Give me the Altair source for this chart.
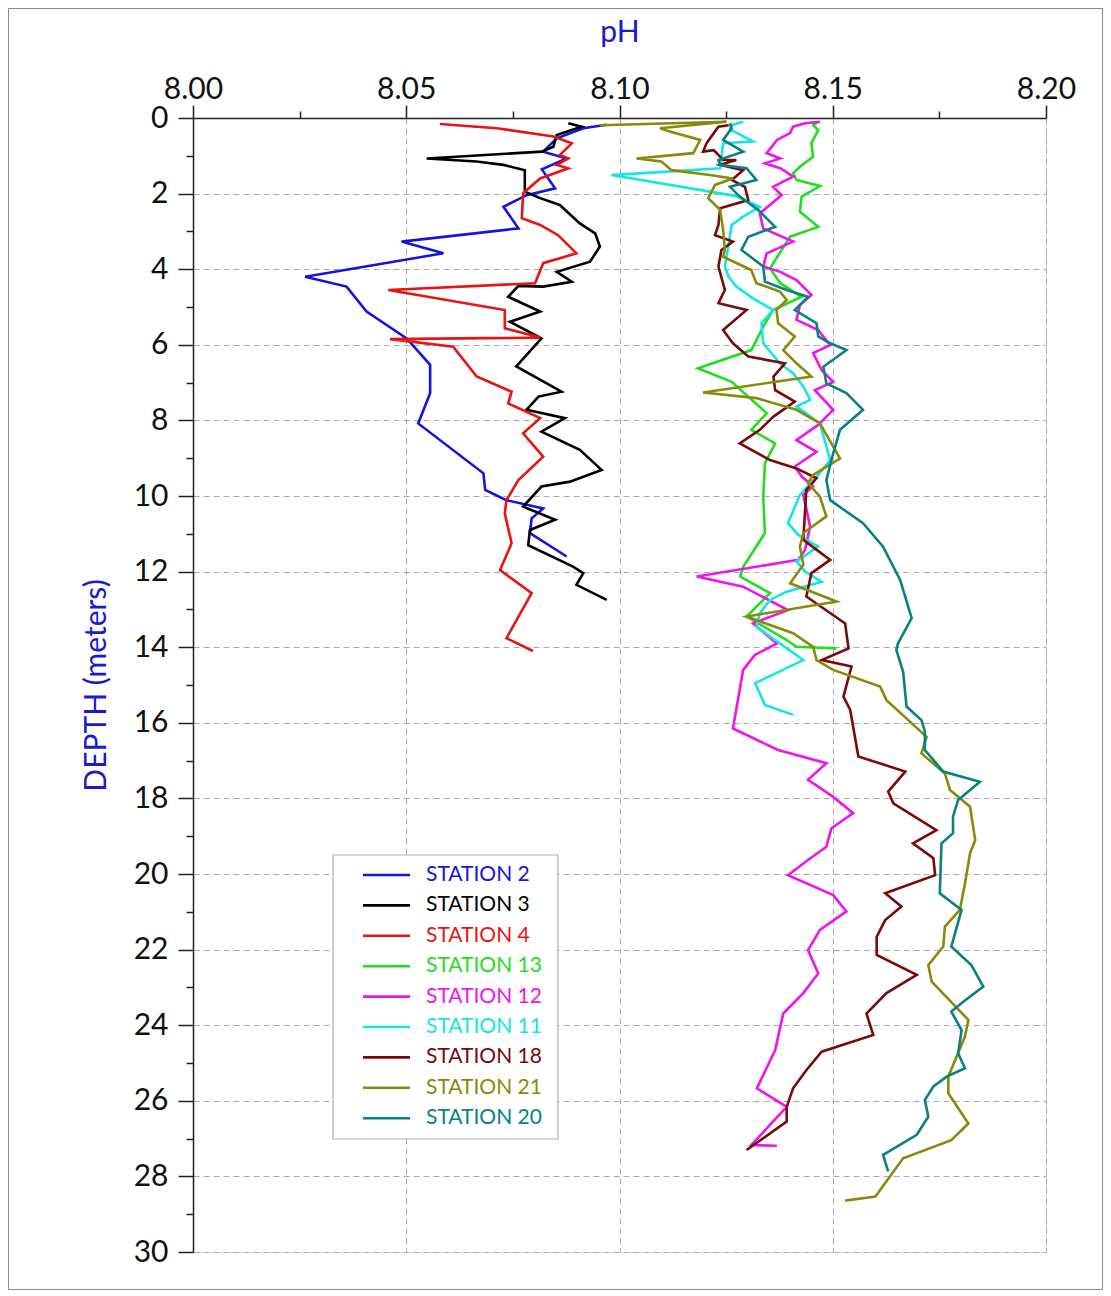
import altair as alt
import pandas as pd

# ---------------- data ----------------
stations = ["STATION 2", "STATION 3", "STATION 4", "STATION 13", "STATION 12",
            "STATION 11", "STATION 18", "STATION 21", "STATION 20"]
colors = ["#1414dc", "#000000", "#e81414", "#22dd22", "#ee14ee",
          "#14e6e6", "#7a0a0a", "#8a8a0a", "#0a8080"]

st2_depth = [0.18, 0.27, 0.54, 0.89, 1.07, 1.36, 1.86, 2.04, 2.35, 2.92,
             3.27, 3.58, 4.20, 4.46, 5.12, 5.83, 6.53, 7.28, 8.08, 9.40,
             9.84, 10.11, 10.33, 10.59, 10.98, 11.60]
st2_ph = [8.0970, 8.0915, 8.0853, 8.0821, 8.0876, 8.0818, 8.0849, 8.0782, 8.0728, 8.0763,
          8.0489, 8.0587, 8.0263, 8.0360, 8.0407, 8.0501, 8.0556, 8.0556, 8.0528, 8.0681,
          8.0685, 8.0735, 8.0821, 8.0794, 8.0790, 8.0876]

st3_depth = [0.14, 0.23, 0.45, 0.76, 0.89, 1.07, 1.15, 1.24, 1.38, 1.95,
             2.12, 2.30, 2.79, 3.05, 3.40, 3.80, 4.07, 4.33, 4.46, 4.44,
             4.73, 5.12, 5.39, 5.83, 6.57, 7.24, 7.37, 7.72, 7.94, 8.30,
             8.78, 9.31, 9.62, 9.75, 10.28, 10.63, 10.90, 11.30, 11.87, 12.04,
             12.35, 12.75]
st3_ph = [8.0880, 8.0911, 8.0853, 8.0845, 8.0818, 8.0548, 8.0665, 8.0728, 8.0778, 8.0778,
          8.0814, 8.0860, 8.0907, 8.0943, 8.0954, 8.0931, 8.0853, 8.0888, 8.0821, 8.0763,
          8.0739, 8.0814, 8.0743, 8.0817, 8.0758, 8.0864, 8.0810, 8.0782, 8.0872, 8.0817,
          8.0907, 8.0958, 8.0884, 8.0817, 8.0774, 8.0849, 8.0790, 8.0786, 8.0891, 8.0915,
          8.0899, 8.0970]

st4_depth = [0.16, 0.27, 0.49, 0.67, 0.98, 1.07, 1.24, 1.33, 1.60, 1.99,
             2.65, 2.83, 3.10, 3.58, 3.84, 4.37, 4.55, 5.08, 5.56, 5.81,
             5.85, 6.05, 6.84, 7.24, 7.55, 7.94, 8.34, 8.96, 9.58, 10.11,
             10.46, 11.25, 11.96, 12.57, 13.76, 14.10]
st4_ph = [8.0579, 8.0712, 8.0845, 8.0888, 8.0860, 8.0880, 8.0853, 8.0880, 8.0814, 8.0774,
          8.0771, 8.0814, 8.0856, 8.0899, 8.0821, 8.0802, 8.0458, 8.0731, 8.0731, 8.0814,
          8.0462, 8.0610, 8.0665, 8.0747, 8.0739, 8.0814, 8.0774, 8.0821, 8.0763, 8.0735,
          8.0731, 8.0747, 8.0720, 8.0794, 8.0735, 8.0797]

st13_depth = [0.10, 0.19, 0.32, 0.67, 1.02, 1.29, 1.46, 1.64, 1.80, 2.08,
              2.48, 2.88, 3.14, 3.49, 3.98, 4.37, 4.73, 5.08, 5.52, 6.14,
              6.62, 6.98, 7.81, 8.25, 8.61, 9.13, 10.02, 10.98, 11.87, 12.13,
              12.57, 13.19, 13.81, 13.99, 14.03]
st13_ph = [8.1466, 8.1454, 8.1466, 8.1450, 8.1454, 8.1423, 8.1407, 8.1415, 8.1470, 8.1427,
           8.1423, 8.1466, 8.1400, 8.1380, 8.1353, 8.1377, 8.1427, 8.1360, 8.1337, 8.1309,
           8.1184, 8.1263, 8.1345, 8.1309, 8.1365, 8.1341, 8.1337, 8.1341, 8.1290, 8.1283,
           8.1353, 8.1298, 8.1392, 8.1415, 8.1509]

st12_depth = [0.10, 0.14, 0.23, 0.40, 0.58, 0.76, 0.93, 1.07, 1.20, 1.33,
              1.55, 1.82, 2.04, 2.26, 2.52, 2.92, 3.27, 3.58, 3.93, 4.07,
              4.29, 4.68, 4.95, 5.34, 5.61, 6.01, 6.22, 6.67, 6.98, 7.20,
              7.72, 8.12, 8.52, 8.83, 9.22, 9.48, 9.75, 9.97, 10.81, 11.43,
              11.69, 12.13, 12.40, 13.02, 13.37, 13.90, 14.20, 14.60, 16.15, 16.72,
              17.07, 17.51, 17.96, 18.39, 18.79, 19.28, 19.63, 20.03, 20.56, 20.99,
              21.48, 22.01, 22.63, 23.15, 23.69, 24.66, 25.67, 26.16, 27.17, 27.19]
st12_ph = [8.1470, 8.1435, 8.1407, 8.1400, 8.1369, 8.1357, 8.1345, 8.1377, 8.1341, 8.1377,
           8.1407, 8.1360, 8.1380, 8.1357, 8.1329, 8.1337, 8.1407, 8.1345, 8.1337, 8.1377,
           8.1415, 8.1450, 8.1423, 8.1415, 8.1466, 8.1494, 8.1454, 8.1474, 8.1501, 8.1458,
           8.1501, 8.1466, 8.1415, 8.1462, 8.1411, 8.1427, 8.1454, 8.1431, 8.1447, 8.1435,
           8.1419, 8.1181, 8.1290, 8.1395, 8.1313, 8.1369, 8.1318, 8.1290, 8.1266, 8.1372,
           8.1485, 8.1442, 8.1501, 8.1548, 8.1497, 8.1485, 8.1442, 8.1395, 8.1501, 8.1532,
           8.1470, 8.1442, 8.1466, 8.1431, 8.1384, 8.1365, 8.1322, 8.1392, 8.1309, 8.1369]

st11_depth = [0.10, 0.19, 0.30, 0.62, 0.67, 1.33, 1.51, 2.06, 2.35, 2.61,
              2.83, 3.32, 3.67, 3.93, 4.20, 4.46, 4.77, 5.08, 5.43, 5.96,
              6.49, 6.75, 7.10, 7.46, 7.63, 8.08, 9.05, 9.49, 9.97, 10.72,
              11.03, 11.34, 11.73, 12.00, 12.27, 12.53, 12.75, 13.10, 13.46, 13.90,
              14.34, 14.95, 15.53, 15.79]
st11_ph = [8.1290, 8.1263, 8.1259, 8.1313, 8.1243, 8.1236, 8.0981, 8.1271, 8.1329, 8.1290,
           8.1263, 8.1256, 8.1251, 8.1247, 8.1256, 8.1274, 8.1313, 8.1360, 8.1333, 8.1337,
           8.1376, 8.1407, 8.1431, 8.1447, 8.1415, 8.1470, 8.1494, 8.1462, 8.1423, 8.1395,
           8.1419, 8.1466, 8.1415, 8.1435, 8.1474, 8.1392, 8.1353, 8.1329, 8.1321, 8.1376,
           8.1431, 8.1318, 8.1341, 8.1407]

st18_depth = [0.19, 0.23, 0.40, 0.67, 0.89, 0.85, 1.11, 1.11, 1.24, 1.38,
              1.64, 1.82, 2.17, 2.39, 2.83, 3.10, 3.27, 3.49, 3.93, 4.55,
              4.90, 5.08, 5.61, 5.96, 6.31, 6.49, 6.84, 7.20, 7.50, 7.90,
              8.25, 8.61, 9.05, 9.27, 9.53, 9.84, 11.16, 11.69, 12.04, 12.66,
              13.37, 14.03, 14.34, 14.51, 15.31, 15.66, 16.89, 17.29, 17.82, 18.13,
              18.84, 19.19, 19.58, 20.03, 20.51, 20.86, 21.22, 21.66, 22.14, 22.67,
              23.15, 23.69, 24.26, 24.70, 25.19, 25.67, 26.16, 26.55, 27.30]
st18_ph = [8.1256, 8.1232, 8.1221, 8.1204, 8.1196, 8.1221, 8.1243, 8.1274, 8.1236, 8.1290,
           8.1263, 8.1294, 8.1302, 8.1236, 8.1232, 8.1224, 8.1266, 8.1239, 8.1232, 8.1247,
           8.1232, 8.1298, 8.1243, 8.1266, 8.1302, 8.1388, 8.1361, 8.1365, 8.1411, 8.1361,
           8.1329, 8.1282, 8.1353, 8.1415, 8.1462, 8.1438, 8.1431, 8.1494, 8.1450, 8.1438,
           8.1529, 8.1537, 8.1474, 8.1544, 8.1525, 8.1541, 8.1560, 8.1670, 8.1630, 8.1642,
           8.1743, 8.1688, 8.1736, 8.1740, 8.1623, 8.1661, 8.1623, 8.1603, 8.1603, 8.1697,
           8.1626, 8.1579, 8.1595, 8.1474, 8.1438, 8.1407, 8.1392, 8.1392, 8.1298]

st21_depth = [0.19, 0.10, 0.27, 0.36, 0.58, 0.76, 0.93, 1.07, 1.15, 1.38,
              1.51, 1.60, 1.77, 2.12, 2.43, 2.96, 3.49, 3.67, 4.02, 4.37,
              4.59, 4.81, 5.08, 5.43, 5.78, 6.14, 6.49, 6.84, 7.26, 7.41,
              7.72, 8.08, 9.01, 9.44, 9.66, 10.02, 10.54, 10.98, 11.34, 11.82,
              12.31, 12.79, 13.19, 13.63, 13.99, 14.34, 14.60, 15.04, 15.40, 16.37,
              16.81, 17.34, 17.78, 18.22, 19.10, 19.45, 20.25, 20.95, 21.39, 21.92,
              22.41, 22.85, 23.86, 24.30, 25.36, 25.80, 26.60, 27.04, 27.52, 28.53,
              28.64]
st21_ph = [8.0954, 8.1251, 8.1095, 8.1118, 8.1189, 8.1181, 8.1173, 8.1040, 8.1098, 8.1122,
           8.1212, 8.1266, 8.1224, 8.1208, 8.1236, 8.1243, 8.1247, 8.1243, 8.1309, 8.1321,
           8.1376, 8.1392, 8.1368, 8.1372, 8.1411, 8.1384, 8.1415, 8.1450, 8.1196, 8.1321,
           8.1415, 8.1470, 8.1517, 8.1454, 8.1442, 8.1470, 8.1485, 8.1431, 8.1423, 8.1431,
           8.1400, 8.1509, 8.1298, 8.1407, 8.1454, 8.1462, 8.1501, 8.1611, 8.1626, 8.1720,
           8.1708, 8.1763, 8.1775, 8.1822, 8.1834, 8.1822, 8.1810, 8.1798, 8.1763, 8.1759,
           8.1724, 8.1732, 8.1818, 8.1810, 8.1771, 8.1771, 8.1818, 8.1778, 8.1665, 8.1600,
           8.1529]

st20_depth = [0.14, 0.27, 0.58, 0.89, 1.11, 1.24, 1.33, 1.64, 1.82, 2.08,
              2.43, 2.88, 3.14, 3.49, 3.93, 4.33, 4.55, 4.73, 5.08, 5.43,
              5.78, 5.96, 6.14, 6.58, 7.02, 7.28, 7.72, 8.25, 8.87, 9.58,
              10.11, 10.72, 11.34, 12.22, 13.23, 13.90, 14.07, 14.65, 15.57, 15.93,
              16.23, 16.72, 17.29, 17.56, 18.04, 18.48, 18.92, 19.19, 20.51, 20.95,
              21.92, 22.41, 22.98, 23.38, 23.64, 24.13, 24.74, 25.14, 25.36, 25.62,
              25.98, 26.42, 26.90, 27.43, 27.87]
st20_ph = [8.1259, 8.1263, 8.1243, 8.1290, 8.1232, 8.1236, 8.1298, 8.1321, 8.1259, 8.1282,
           8.1325, 8.1365, 8.1302, 8.1286, 8.1337, 8.1341, 8.1392, 8.1442, 8.1411, 8.1462,
           8.1466, 8.1494, 8.1532, 8.1478, 8.1485, 8.1532, 8.1571, 8.1517, 8.1501, 8.1485,
           8.1494, 8.1571, 8.1618, 8.1658, 8.1685, 8.1653, 8.1649, 8.1665, 8.1673, 8.1708,
           8.1716, 8.1716, 8.1759, 8.1845, 8.1794, 8.1782, 8.1782, 8.1755, 8.1751, 8.1802,
           8.1778, 8.1825, 8.1853, 8.1806, 8.1778, 8.1802, 8.1794, 8.1810, 8.1767, 8.1736,
           8.1716, 8.1724, 8.1697, 8.1618, 8.1630]

x_ticks = [8.000, 8.025, 8.050, 8.075, 8.100, 8.125, 8.150, 8.175, 8.200]
y_ticks = list(range(0, 31))

# ---------------- build table ----------------
series = [
    (st2_depth, st2_ph), (st3_depth, st3_ph), (st4_depth, st4_ph),
    (st13_depth, st13_ph), (st12_depth, st12_ph), (st11_depth, st11_ph),
    (st18_depth, st18_ph), (st21_depth, st21_ph), (st20_depth, st20_ph),
]
rows = []
for name, (dep, ph) in zip(stations, series):
    assert len(dep) == len(ph), (name, len(dep), len(ph))
    for i, (d, p) in enumerate(zip(dep, ph)):
        rows.append({"station": name, "depth": d, "ph": p, "seq": i})
df = pd.DataFrame(rows)

leg_df = pd.DataFrame({"station": stations, "idx": list(range(len(stations)))})

color_scale = alt.Scale(domain=stations, range=colors)
major_x = "abs(datum.value*20 - round(datum.value*20)) < 0.001"
major_y = "datum.value % 2 == 0"
FONT = "Lato"
BLUE = "#1a1ad0"

x_enc = alt.X(
    "ph:Q",
    scale=alt.Scale(domain=[8.0, 8.2], nice=False, zero=False),
    axis=alt.Axis(
        orient="top", title="pH", values=x_ticks,
        labelExpr=f"{major_x} ? format(datum.value, '.2f') : ''",
        labelFont=FONT, labelFontSize=30, labelColor="#111111", labelPadding=7,
        labelBaseline="alphabetic", labelFlush=False, labelOverlap=False,
        tickSize={"condition": {"test": major_x, "value": 13}, "value": 7},
        tickColor="#222222", tickWidth=1.5,
        domainColor="#222222", domainWidth=1.5,
        grid=True, gridDash=[6, 4], gridColor="#aaaaaa", gridWidth=1,
        gridOpacity={"condition": {"test": major_x, "value": 1}, "value": 0},
        titleFont=FONT, titleFontSize=30, titleFontWeight="normal", titleColor=BLUE,
        titlePadding=27,
    ),
)
y_enc = alt.Y(
    "depth:Q",
    scale=alt.Scale(domain=[0, 30], reverse=True, nice=False, zero=False),
    axis=alt.Axis(
        title="DEPTH (meters)", values=y_ticks,
        labelExpr=f"{major_y} ? datum.label : ''",
        labelFont=FONT, labelFontSize=30, labelColor="#111111", labelPadding=10,
        labelFlush=False, labelOverlap=False,
        tickSize={"condition": {"test": major_y, "value": 15}, "value": 7},
        tickColor="#222222", tickWidth=1.5,
        domainColor="#222222", domainWidth=1.5,
        grid=True, gridDash=[6, 4], gridColor="#aaaaaa", gridWidth=1,
        gridOpacity={"condition": {"test": major_y, "value": 1}, "value": 0},
        titleFont=FONT, titleFontSize=30, titleFontWeight="normal", titleColor=BLUE,
        titlePadding=22,
    ),
)

lines = alt.Chart(df).mark_line(strokeWidth=2.6).encode(
    x=x_enc,
    y=y_enc,
    color=alt.Color("station:N", scale=color_scale, legend=None),
    order=alt.Order("seq:Q"),
    detail="station:N",
)

# legend drawn inside the plot (colored labels)
box = alt.Chart(pd.DataFrame({"a": [0]})).mark_rect(
    fill="white", stroke="#b0b0b0", strokeWidth=1.2
).encode(x=alt.value(140), x2=alt.value(365), y=alt.value(737), y2=alt.value(1021))

leg_base = alt.Chart(leg_df).transform_calculate(ly="757 + datum.idx * 30.4")
leg_lines = leg_base.mark_rule(strokeWidth=2.6).encode(
    x=alt.value(170), x2=alt.value(217),
    y=alt.Y("ly:Q", scale=None),
    color=alt.Color("station:N", scale=color_scale, legend=None),
)
leg_text = leg_base.mark_text(align="left", baseline="middle", font=FONT, fontSize=21).encode(
    x=alt.value(233),
    y=alt.Y("ly:Q", scale=None),
    text="station:N",
    color=alt.Color("station:N", scale=color_scale, legend=None),
)

frame = alt.Chart(pd.DataFrame({"a": [0]})).mark_rect(
    fill=None, stroke="#8a8a8a", strokeWidth=1
).encode(x=alt.value(-184.5), x2=alt.value(909.5), y=alt.value(-109.5), y2=alt.value(1171.5))

chart = alt.layer(frame, lines, box, leg_lines, leg_text).properties(
    width=853, height=1134,
    autosize=alt.AutoSizeParams(type="none"),
    padding={"left": 185, "top": 110, "right": 57, "bottom": 38},
).configure_view(stroke="#222222", strokeWidth=1.5).configure(background="white")

chart.save("out.html", embed_options={"renderer": "svg", "actions": False})
